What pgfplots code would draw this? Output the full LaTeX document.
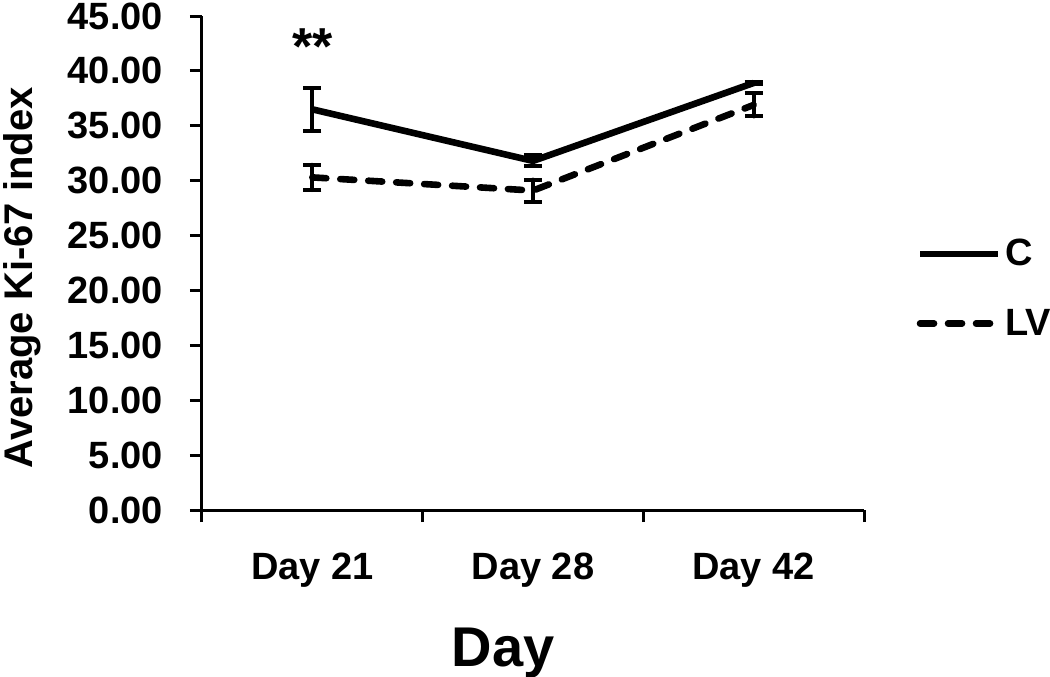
\documentclass[border=0pt]{standalone}
\usepackage{pgfplots}
\pgfplotsset{compat=1.18}
\usepackage{fontspec}
\setmainfont{Liberation Sans}
\begin{document}
\begin{tikzpicture}
\path[use as bounding box] (-101pt,-83pt) rectangle (424pt,255pt);
\begin{axis}[
  scale only axis, width=331pt, height=247pt,
  xmin=-0.5, xmax=2.5, ymin=0, ymax=45,
  axis lines*=left,
  axis line style={line width=1.5pt, black},
  xtick={0,1,2}, xticklabels={Day 21,Day 28,Day 42},
  major x tick style={draw=none},
  minor xtick={-0.5,0.5,1.5,2.5},
  ytick={0,5,...,45},
  tick align=outside, major tick length=6pt, minor tick length=6pt,
  every tick/.style={line width=1.5pt, black},
  /pgf/number format/assume math mode=true,
  /pgf/number format/fixed, /pgf/number format/fixed zerofill, /pgf/number format/precision=2,
  ticklabel style={font=\bfseries\fontsize{19}{22}\selectfont},
  yticklabel style={xshift=-10pt},
  xticklabel style={yshift=-12pt},
  xlabel={Day}, ylabel={Average Ki-67 index},
  xlabel style={at={(axis description cs:0.455,-0.29)}, anchor=center, font=\bfseries\fontsize{28}{32}\selectfont},
  ylabel style={at={(axis description cs:-0.272,0.47)}, anchor=center, font=\bfseries\fontsize{20}{24}\selectfont},
  legend style={at={(axis description cs:1.07,0.448)}, anchor=west, draw=none, fill=none,
    font=\bfseries\fontsize{19}{22}\selectfont, row sep=16pt},
  legend cell align=left,
  legend image code/.code={\draw[#1] (0pt,0pt) -- (39pt,0pt);},
]
\addplot[black, line width=3.3pt, line join=round,
  error bars/.cd, y dir=both, y explicit,
  error bar style={line width=2pt, solid},
  error mark options={rotate=90, mark size=4.5pt, line width=2pt, solid}]
  coordinates {(0,36.5) +- (0,1.95) (1,31.8) +- (0,0.5) (2,38.9) +- (0,0.1)};
\addlegendentry{C}
\addplot[black, line width=3.3pt, line cap=round, dash pattern=on 7pt off 7pt,
  error bars/.cd, y dir=both, y explicit,
  error bar style={line width=2pt, solid},
  error mark options={rotate=90, mark size=4.5pt, line width=2pt, solid}]
  coordinates {(0,30.3) +- (0,1.15) (1,29.1) +- (0,1.0) (2,36.9) +- (0,1.05)};
\addlegendentry{LV}
\node[font=\bfseries\fontsize{26}{28}\selectfont] at (axis cs:0,42.2) {**};
\end{axis}
\end{tikzpicture}
\end{document}
